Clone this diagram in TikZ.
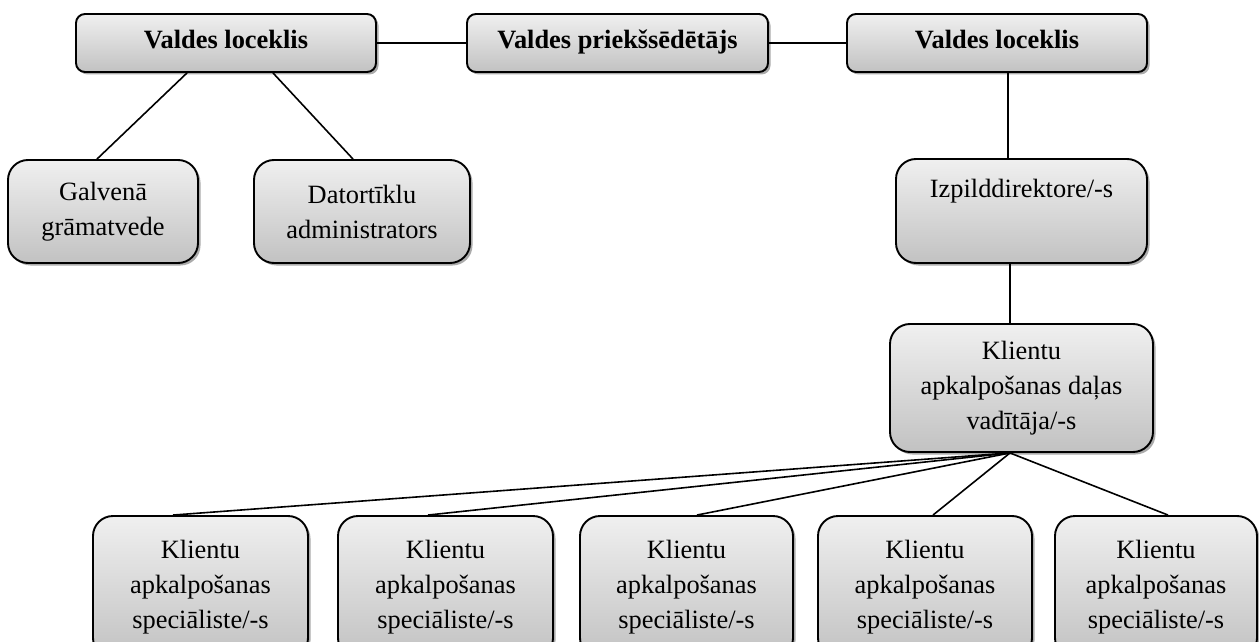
\documentclass[tikz,border=0pt]{standalone}
\usepackage{fontspec}
\setmainfont{Liberation Serif}
\usetikzlibrary{shadows}
\begin{document}
\begin{tikzpicture}[x=1pt,y=-1pt,
  box/.style={draw=black, line width=1.9pt, top color=black!6, bottom color=black!24,
    drop shadow={shadow xshift=2.5pt, shadow yshift=-2.5pt, fill=black!55, opacity=0.6},
    align=center, inner sep=0pt, font=\fontsize{26.4pt}{35pt}\selectfont},
  topbox/.style={box, rounded corners=9pt, minimum height=58pt, text height=18pt, text depth=6pt,
    font=\fontsize{26.4pt}{35pt}\selectfont\bfseries},
  bigbox/.style={box, rounded corners=20pt},
  conn/.style={draw=black, line width=1.6pt}]
\useasboundingbox (0,0) rectangle (1259,642);
\clip (0,0) rectangle (1259,642);
% top row
\node[topbox, minimum width=300pt] (vl1) at (226,43) {Valdes loceklis};
\node[topbox, minimum width=301pt] (vp) at (617.5,43) {Valdes priekšsēdētājs};
\node[topbox, minimum width=300pt] (vl2) at (997,43) {Valdes loceklis};
% second row
\node[bigbox, minimum width=190pt, minimum height=103pt] (gal) at (103,211.5) {Galvenā\\grāmatvede};
\node[bigbox, minimum width=216pt, minimum height=103pt] (dat) at (362,211.5) {Datortīklu\\administrators};
\node[bigbox, minimum width=251pt, minimum height=104pt] (izp) at (1021.5,211) {Izpilddirektore/-s\\\strut};
% third row
\node[bigbox, minimum width=263pt, minimum height=128pt] (kv) at (1021.5,388) {Klientu\\apkalpošanas daļas\\vadītāja/-s};
% bottom row
\node[bigbox, minimum width=215pt, minimum height=142pt] (b1) at (200.5,587) {Klientu\\apkalpošanas\\speciāliste/-s};
\node[bigbox, minimum width=215pt, minimum height=142pt] (b2) at (445.5,587) {Klientu\\apkalpošanas\\speciāliste/-s};
\node[bigbox, minimum width=213pt, minimum height=142pt] (b3) at (686.5,587) {Klientu\\apkalpošanas\\speciāliste/-s};
\node[bigbox, minimum width=214pt, minimum height=142pt] (b4) at (925,587) {Klientu\\apkalpošanas\\speciāliste/-s};
\node[bigbox, minimum width=202pt, minimum height=142pt] (b5) at (1156,587) {Klientu\\apkalpošanas\\speciāliste/-s};
% connectors
\draw[conn] (vl1.east) -- (vp.west);
\draw[conn] (vp.east) -- (vl2.west);
\draw[conn] ([xshift=-39pt]vl1.south) -- ([xshift=-6pt]gal.north);
\draw[conn] ([xshift=47pt]vl1.south) -- ([xshift=-9pt]dat.north);
\draw[conn] ([xshift=11pt]vl2.south) -- ([xshift=-13.5pt]izp.north);
\draw[conn] ([xshift=-11.5pt]izp.south) -- ([xshift=-11.5pt]kv.north);
\draw[conn] ([xshift=-11.5pt]kv.south) -- ([xshift=-27.5pt]b1.north);
\draw[conn] ([xshift=-11.5pt]kv.south) -- ([xshift=-17.5pt]b2.north);
\draw[conn] ([xshift=-11.5pt]kv.south) -- ([xshift=10.5pt]b3.north);
\draw[conn] ([xshift=-11.5pt]kv.south) -- ([xshift=8pt]b4.north);
\draw[conn] ([xshift=-11.5pt]kv.south) -- ([xshift=12pt]b5.north);
\end{tikzpicture}
\end{document}
